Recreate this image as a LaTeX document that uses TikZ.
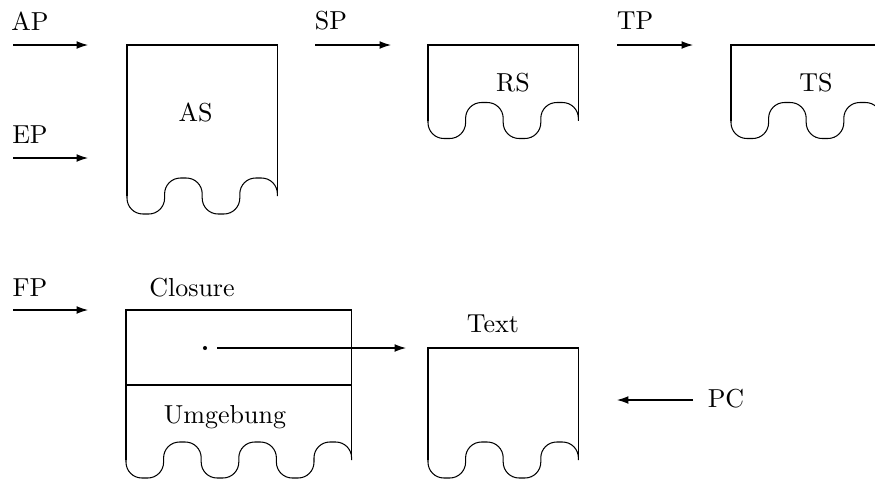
\documentclass[tikz,border=0pt]{standalone}
\usetikzlibrary{arrows.meta}
\begin{document}
\begin{tikzpicture}[x=0.3846pt, y=-0.3846pt, line width=0.4pt,
  vec/.style={-{Latex[length=4.4pt,width=3pt]}},
  lbl/.style={inner sep=0pt},
  wave/.style={rounded corners=6.1pt}]
\useasboundingbox (0,0) rectangle (875,480);
\def\h{37.6}

% ---- entry pointers on the left ----
\node[lbl] (AP) at (30,21) {AP};
\coordinate (ap-tail) at (13,45);  \coordinate (ap-head) at (88,45);
\draw[vec] (ap-tail) -- (ap-head);

\node[lbl] (EP) at (30,135) {EP};
\coordinate (ep-tail) at (13,158); \coordinate (ep-head) at (88,158);
\draw[vec] (ep-tail) -- (ep-head);

\node[lbl] (FP) at (30,288) {FP};
\coordinate (fp-tail) at (13,310); \coordinate (fp-head) at (88,310);
\draw[vec] (fp-tail) -- (fp-head);

\node[lbl] (SP) at (331,21) {SP};
\coordinate (sp-tail) at (315,45); \coordinate (sp-head) at (391,45);
\draw[vec] (sp-tail) -- (sp-head);

\node[lbl] (TP) at (635,21) {TP};
\coordinate (tp-tail) at (617,45); \coordinate (tp-head) at (693,45);
\draw[vec] (tp-tail) -- (tp-head);

\node[lbl] (PC) at (726,399) {PC};
\coordinate (pc-tail) at (693,400); \coordinate (pc-head) at (617,400);
\draw[vec] (pc-tail) -- (pc-head);

% ---- stack AS ----
\draw (127,196) -- (127,45) -- (277.4,45) -- (277.4,196);
\draw[wave] (127,196) -- ++(0,18) -- ++(\h,0) -- ++(0,-36) -- ++(\h,0)
  -- ++(0,36) -- ++(\h,0) -- ++(0,-36) -- ++(\h,0) -- ++(0,18);
\node[lbl] (AS) at (195.5,112) {AS};

% ---- stack RS ----
\draw (428,120.5) -- (428,45) -- (578.4,45) -- (578.4,120.5);
\draw[wave] (428,120.5) -- ++(0,18) -- ++(\h,0) -- ++(0,-36) -- ++(\h,0)
  -- ++(0,36) -- ++(\h,0) -- ++(0,-36) -- ++(\h,0) -- ++(0,18);
\node[lbl] (RS) at (513,82.5) {RS};

% ---- stack TS ----
\draw (731,120.5) -- (731,45) -- (881.4,45) -- (881.4,120.5);
\draw[wave] (731,120.5) -- ++(0,18) -- ++(\h,0) -- ++(0,-36) -- ++(\h,0)
  -- ++(0,36) -- ++(\h,0) -- ++(0,-36) -- ++(\h,0) -- ++(0,18);
\node[lbl] (TS) at (816,82.5) {TS};

% ---- closure with its environment ----
\node[lbl] (closure) at (192,287.5) {Closure};
\draw (126,460) -- (126,310) -- (351.6,310) -- (351.6,460);
\draw (126,385) -- (351.6,385);
\draw[wave] (126,460) -- ++(0,18) -- ++(\h,0) -- ++(0,-36) -- ++(\h,0)
  -- ++(0,36) -- ++(\h,0) -- ++(0,-36) -- ++(\h,0)
  -- ++(0,36) -- ++(\h,0) -- ++(0,-36) -- ++(\h,0) -- ++(0,18);
\node[lbl] (umg) at (225,417) {Umgebung};
\node[circle, fill, inner sep=0.55pt] (dot) at (205,348) {};
\coordinate (ptr-tail) at (217,348); \coordinate (ptr-head) at (406,348);
\draw[vec] (ptr-tail) -- (ptr-head);

% ---- code block ----
\node[lbl] (text) at (493,324) {Text};
\draw (428,460) -- (428,348) -- (578.4,348) -- (578.4,460);
\draw[wave] (428,460) -- ++(0,18) -- ++(\h,0) -- ++(0,-36) -- ++(\h,0)
  -- ++(0,36) -- ++(\h,0) -- ++(0,-36) -- ++(\h,0) -- ++(0,18);
\end{tikzpicture}
\end{document}
